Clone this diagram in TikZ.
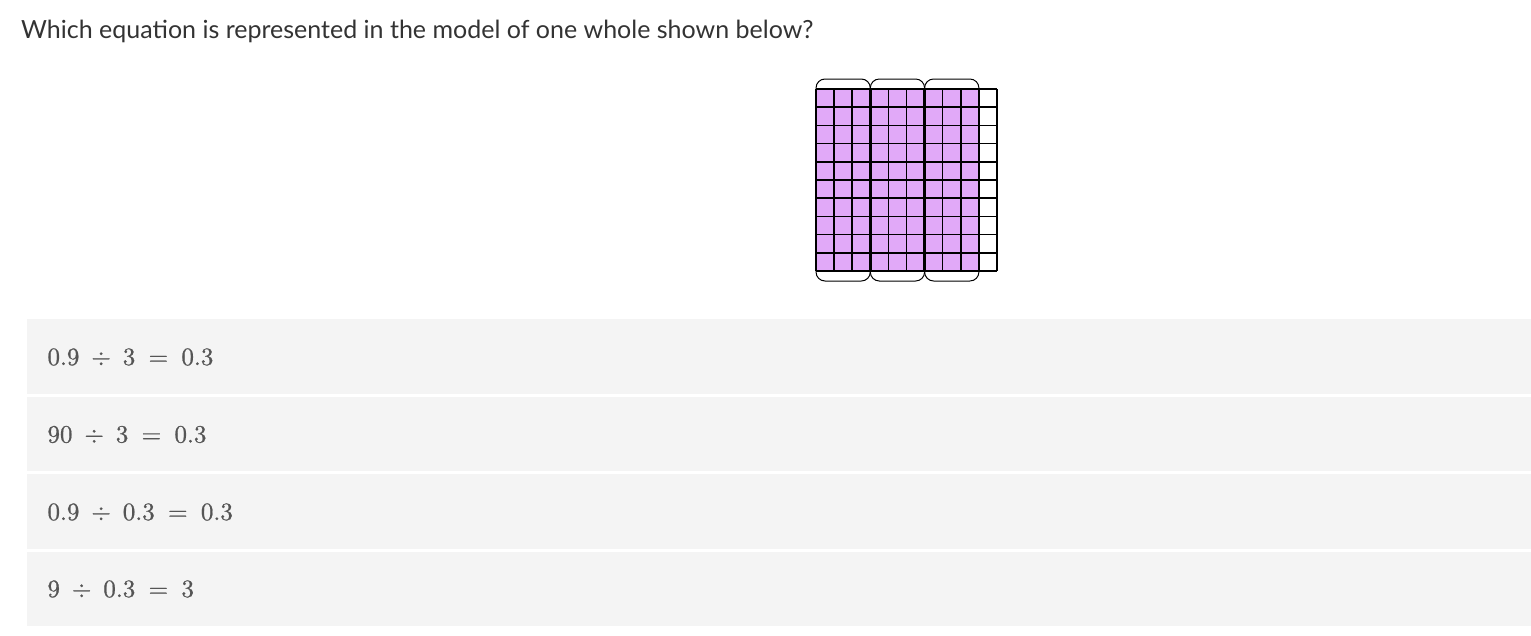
\documentclass[tikz,border=0pt]{standalone}
\usepackage{amsmath}
\usepackage{fontspec}
\usepackage{unicode-math}
\usepackage{xcolor}
\setmainfont{Lato}
\setmathfont{Latin Modern Math}[FakeBold=0.8]
\definecolor{band-gray}{HTML}{F4F4F4}
\definecolor{title-gray}{HTML}{333333}
\definecolor{math-gray}{HTML}{555555}
\definecolor{cell-purple}{HTML}{E1A9F8}
\tikzset{
    option-band/.style = {fill=band-gray, draw=none},
    option-text/.style = {anchor=west, inner sep=0pt, text=math-gray, scale=2.5, font=\fontsize{10}{12}\selectfont},
    title-text/.style = {anchor=base west, inner sep=0pt, text=title-gray, font=\fontsize{25}{29}\selectfont},
    grid-thin/.style = {draw=black, line width=1.5pt},
    grid-thick/.style = {draw=black, line width=2.4pt},
    group-bracket/.style = {draw=black, line width=1pt, rounded corners=9pt},
}

\begin{document}
\begin{tikzpicture}[x=1pt, y=-1pt]
\useasboundingbox (0,0) rectangle (1531,635);
\fill[white] (0,0) rectangle (1531,635);

% question
\node[title-text] (question) at (21,38) {Which equation is represented in the model of one whole shown below?};

% model of one whole: 10 x 10 grid, 9 columns shaded
\fill[cell-purple] (816,89) rectangle (979,271);
\foreach \i in {0,...,10} {
    \draw[grid-thin] ({816+18.1*\i},89) -- ({816+18.1*\i},271);
    \draw[grid-thin] (816,{89+18.2*\i}) -- (997,{89+18.2*\i});
}
\foreach \i in {0,3,6,9} {
    \draw[grid-thick] ({816+18.1*\i},89) -- ({816+18.1*\i},271);
}
\foreach \i in {0,3,6} {
    \draw[group-bracket] ({816+18.1*\i},89) -- ({816+18.1*\i},79) -- ({816+18.1*(\i+3)},79) -- ({816+18.1*(\i+3)},89);
    \draw[group-bracket] ({816+18.1*\i},271) -- ({816+18.1*\i},281) -- ({816+18.1*(\i+3)},281) -- ({816+18.1*(\i+3)},271);
}

% answer options
\fill[option-band] (27,319) rectangle (1531,393.5);
\fill[option-band] (27,396.5) rectangle (1531,471);
\fill[option-band] (27,474) rectangle (1531,548.5);
\fill[option-band] (27,551.5) rectangle (1531,626);
\node[option-text] (option-a) at (47,357) {$0.9\ \div\ 3\ =\ 0.3$};
\node[option-text] (option-b) at (47,434.5) {$90\ \div\ 3\ =\ 0.3$};
\node[option-text] (option-c) at (47,512) {$0.9\ \div\ 0.3\ =\ 0.3$};
\node[option-text] (option-d) at (47,589) {$9\ \div\ 0.3\ =\ 3$};
\end{tikzpicture}
\end{document}
